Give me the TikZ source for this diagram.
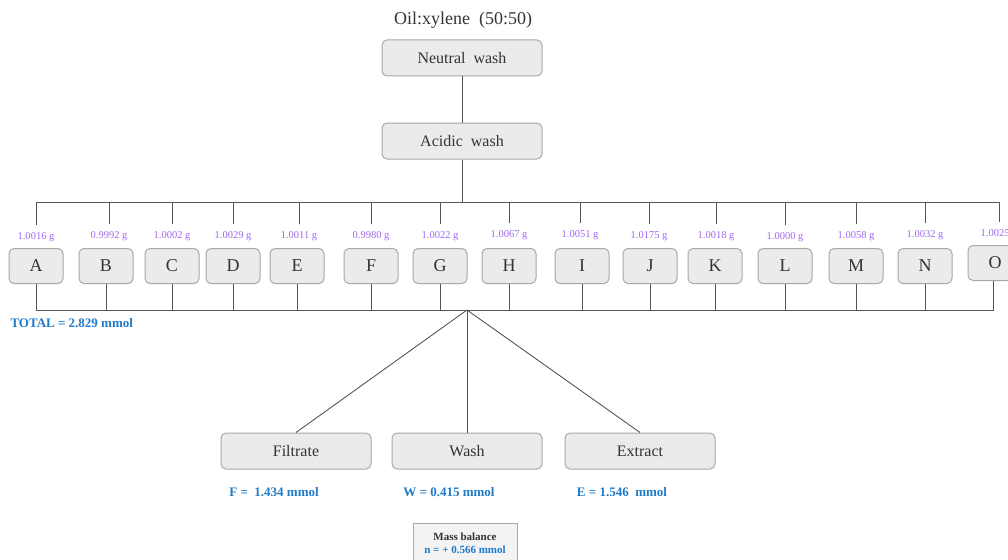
\documentclass[tikz,border=0pt]{standalone}
\usepackage{fontspec}
\setmainfont{Liberation Serif}
\usepackage{xcolor}

\definecolor{boxfill}{HTML}{EBEBEB}
\definecolor{boxline}{HTML}{A8A8A8}
\definecolor{linecol}{HTML}{555555}
\definecolor{textcol}{HTML}{333333}
\definecolor{wtcol}{HTML}{A066F0}
\definecolor{amtcol}{HTML}{1F7AC8}

\tikzset{
  stage/.style={draw=boxline, fill=boxfill, rounded corners=5pt, line width=1pt,
    minimum width=160pt, minimum height=36pt, text=textcol,
    font=\fontsize{16}{18}\selectfont},
  sample/.style={stage, minimum width=54pt, minimum height=35pt,
    font=\fontsize{18}{20}\selectfont},
  fraction/.style={stage, minimum width=150pt},
  weight/.style={text=wtcol, font=\fontsize{10.5}{12}\selectfont, inner sep=1pt, outer sep=6pt},
  amount/.style={text=amtcol, font=\bfseries\fontsize{13}{15}\selectfont},
  wire/.style={draw=linecol, line width=0.9pt},
}

\begin{document}
\begin{tikzpicture}[x=1pt, y=-1pt]
    \useasboundingbox (0,0) rectangle (1008,559);
    \clip (0,0) rectangle (1008,559);

    % Title and washes
    \node[text=textcol, font=\fontsize{18}{20}\selectfont] (title) at (463,20) {Oil:xylene\ \ (50:50)};
    \node[stage] (neutral) at (462,58) {Neutral\ \ wash};
    \node[stage] (acidic) at (462,141) {Acidic\ \ wash};

    % Samples
    \node[sample] (A) at (36,266) {A};
    \node[sample] (B) at (106,266) {B};
    \node[sample] (C) at (172,266) {C};
    \node[sample] (D) at (233,266) {D};
    \node[sample] (E) at (297,266) {E};
    \node[sample] (F) at (371,266) {F};
    \node[sample] (G) at (440,266) {G};
    \node[sample] (H) at (509,266) {H};
    \node[sample] (I) at (582,266) {I};
    \node[sample] (J) at (650,266) {J};
    \node[sample] (K) at (715,266) {K};
    \node[sample] (L) at (785,266) {L};
    \node[sample] (M) at (856,266) {M};
    \node[sample] (N) at (925,266) {N};
    \node[sample] (O) at (995,263) {O};

    % Weights
    \node[weight] (wA) at (36,237) {1.0016 g};
    \node[weight] (wB) at (109,236) {0.9992 g};
    \node[weight] (wC) at (172,236) {1.0002 g};
    \node[weight] (wD) at (233,236) {1.0029 g};
    \node[weight] (wE) at (299,236) {1.0011 g};
    \node[weight] (wF) at (371,236) {0.9980 g};
    \node[weight] (wG) at (440,236) {1.0022 g};
    \node[weight] (wH) at (509,235) {1.0067 g};
    \node[weight] (wI) at (580,235) {1.0051 g};
    \node[weight] (wJ) at (649,236) {1.0175 g};
    \node[weight] (wK) at (716,236) {1.0018 g};
    \node[weight] (wL) at (785,237) {1.0000 g};
    \node[weight] (wM) at (856,236) {1.0058 g};
    \node[weight] (wN) at (925,235) {1.0032 g};
    \node[weight] (wO) at (999,234) {1.0025 g};

    % Fractions
    \node[fraction] (filtrate) at (296,451) {Filtrate};
    \node[fraction] (wash) at (467,451) {Wash};
    \node[fraction] (extract) at (640,451) {Extract};

    % Amounts
    \node[amount, anchor=west] (total) at (7,323) {TOTAL = 2.829 mmol};
    \node[amount] (fval) at (274,492) {F =\ \ 1.434 mmol};
    \node[amount] (wval) at (449,492) {W = 0.415 mmol};
    \node[amount] (eval) at (622,492) {E = 1.546\ \ mmol};

    % Mass balance
    \node[draw=boxline, fill=boxfill!60, line width=1pt, minimum width=104pt,
          minimum height=40pt, align=center, text=textcol, inner sep=2pt,
          font=\bfseries\fontsize{11}{13}\selectfont] (balance) at (465,543)
          {Mass balance\\\textcolor{amtcol}{n = + 0.566 mmol}};

    % Lines
    \coordinate (top) at (462,202);
    \coordinate (split) at (467,310);
    \draw[wire] (neutral) -- (acidic);
    \draw[wire] (acidic) -- (top);
    \draw[wire] (wA.north) -- (wA.north |- top) -- (wO.north |- top) -- (wO.north);
    \draw[wire] (wB.north) -- (wB.north |- top);
    \draw[wire] (wC.north) -- (wC.north |- top);
    \draw[wire] (wD.north) -- (wD.north |- top);
    \draw[wire] (wE.north) -- (wE.north |- top);
    \draw[wire] (wF.north) -- (wF.north |- top);
    \draw[wire] (wG.north) -- (wG.north |- top);
    \draw[wire] (wH.north) -- (wH.north |- top);
    \draw[wire] (wI.north) -- (wI.north |- top);
    \draw[wire] (wJ.north) -- (wJ.north |- top);
    \draw[wire] (wK.north) -- (wK.north |- top);
    \draw[wire] (wL.north) -- (wL.north |- top);
    \draw[wire] (wM.north) -- (wM.north |- top);
    \draw[wire] (wN.north) -- (wN.north |- top);

    \draw[wire] (A.south) -- (A.south |- split) -- ([xshift=-2pt]O.south |- split) -- ([xshift=-2pt]O.south);
    \draw[wire] (B.south) -- (B.south |- split);
    \draw[wire] (C.south) -- (C.south |- split);
    \draw[wire] (D.south) -- (D.south |- split);
    \draw[wire] (E.south) -- (E.south |- split);
    \draw[wire] (F.south) -- (F.south |- split);
    \draw[wire] (G.south) -- (G.south |- split);
    \draw[wire] (H.south) -- (H.south |- split);
    \draw[wire] (I.south) -- (I.south |- split);
    \draw[wire] (J.south) -- (J.south |- split);
    \draw[wire] (K.south) -- (K.south |- split);
    \draw[wire] (L.south) -- (L.south |- split);
    \draw[wire] (M.south) -- (M.south |- split);
    \draw[wire] (N.south) -- (N.south |- split);

    \draw[wire] (split) -- (filtrate.north);
    \draw[wire] (split) -- (wash.north);
    \draw[wire] (split) -- (extract.north);
\end{tikzpicture}
\end{document}
